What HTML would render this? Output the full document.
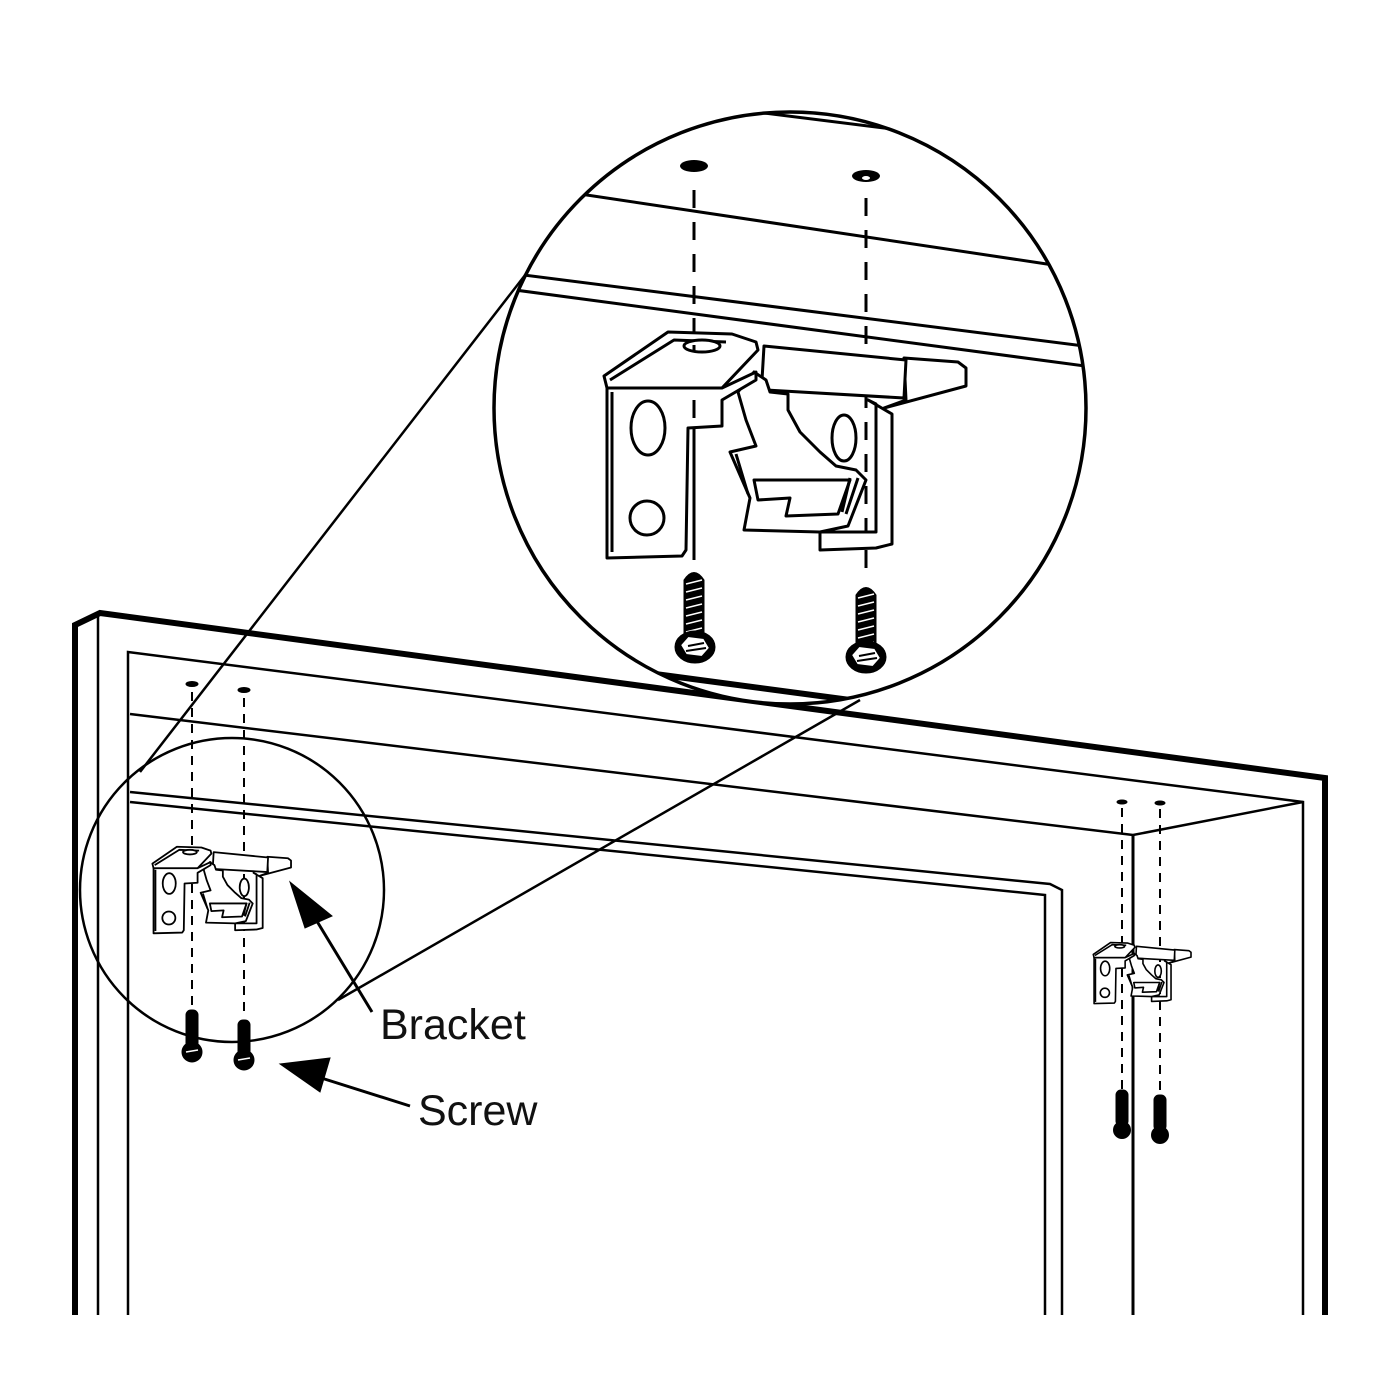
<!DOCTYPE html>
<html><head><meta charset="utf-8"><style>
html,body{margin:0;padding:0;background:#fff;}
svg{display:block;}
</style></head><body>
<svg width="1400" height="1400" viewBox="0 0 1400 1400" xmlns="http://www.w3.org/2000/svg">
<defs>
<clipPath id="bc"><circle cx="790" cy="408" r="296"/></clipPath>
<g id="br" fill="#fff" stroke="#000" stroke-linejoin="round">
  <path vector-effect="non-scaling-stroke" d="M884,408 L966,386 L966,368 L958,362 L904,358 L906,400 Z"/>
  <path vector-effect="non-scaling-stroke" d="M868,400 L892,414 L892,544 L876,548 L820,550 L820,532 L876,532 L876,404 Z"/>
  <ellipse vector-effect="non-scaling-stroke" cx="844" cy="438" rx="12" ry="23"/>
  <path vector-effect="non-scaling-stroke" d="M764,346 L906,360 L904,398 L766,390 L762,380 Z"/>
  <path vector-effect="non-scaling-stroke" d="M754,372 L738,392 L746,420 L756,446 L730,452 L750,498 L744,530 L820,532 L848,526 L866,480 L856,470 L836,466 L820,452 L800,432 L788,410 L788,394 L770,392 L766,380 Z"/>
  <path vector-effect="non-scaling-stroke" d="M754,480 L758,500 L790,498 L786,516 L838,514 L850,480 Z"/>
  <path vector-effect="non-scaling-stroke" fill="none" d="M736,454 L748,494 M850,478 L842,512 M858,478 L846,514"/>
  <path vector-effect="non-scaling-stroke" d="M604,376 L668,332 L732,334 L756,342 L758,350 L722,388 L607,388 Z"/>
  <path vector-effect="non-scaling-stroke" fill="none" d="M610,380 L674,340 L726,342"/>
  <ellipse vector-effect="non-scaling-stroke" cx="702" cy="346" rx="18" ry="6"/>
  <path vector-effect="non-scaling-stroke" d="M607,388 L722,388 L756,372 L756,380 L722,400 L722,426 L688,428 L686,550 L682,556 L607,558 Z"/>
  <path vector-effect="non-scaling-stroke" fill="none" d="M612,392 L612,552"/>
  <ellipse vector-effect="non-scaling-stroke" cx="648" cy="428" rx="17" ry="27"/>
  <circle vector-effect="non-scaling-stroke" cx="647" cy="518" r="17"/>
</g>
</defs>

<g fill="none" stroke="#000">
  <path d="M75,1315 L75,625 L100,613 L1325,778 L1325,1315" stroke-width="6"/>
  <path d="M98,615 L98,1315" stroke-width="2.5"/>
  <path d="M128,1315 L128,652 L1303,802 L1303,1315" stroke-width="2.5"/>
  <path d="M130,714 L1133,835 L1303,802" stroke-width="2.5"/>
  <path d="M1133,835 L1133,1315" stroke-width="3"/>
  <path d="M130,792 L1050,884 L1062,890 L1062,1315" stroke-width="2.5"/>
  <path d="M130,802 L1045,895 L1045,1315" stroke-width="2.5"/>
</g>

<g fill="none" stroke="#000" stroke-width="2.5">
  <circle cx="232" cy="890" r="152"/>
  <path d="M140,772 L560,230"/>
  <path d="M338,1000 L860,700"/>
</g>

<g stroke="#000" fill="none">
  <ellipse cx="192" cy="684" rx="6" ry="2.5" fill="#000"/>
  <ellipse cx="244" cy="690" rx="6" ry="2.5" fill="#000"/>
  <path d="M192,692 L192,1012 M244,698 L244,1018" stroke-width="2" stroke-dasharray="9,7"/>
</g>
<use href="#br" transform="translate(152,846) scale(0.383) translate(-603,-330)" stroke-width="1.8"/>
<g fill="#000" stroke="#000">
  <rect x="186" y="1010" width="12" height="38" rx="5"/>
  <circle cx="192" cy="1052" r="10"/>
  <path d="M186,1052 L198,1050" stroke="#fff" stroke-width="1.5"/>
  <rect x="238" y="1020" width="12" height="38" rx="5"/>
  <circle cx="244" cy="1060" r="10"/>
  <path d="M238,1060 L250,1058" stroke="#fff" stroke-width="1.5"/>
</g>

<g stroke="#000" fill="none">
  <ellipse cx="1122" cy="802" rx="5" ry="2" fill="#000"/>
  <ellipse cx="1160" cy="803" rx="5" ry="2" fill="#000"/>
  <path d="M1122,808 L1122,1090 M1160,809 L1160,1095" stroke-width="2" stroke-dasharray="9,7"/>
</g>
<use href="#br" transform="translate(1093,942) scale(0.27) translate(-603,-330)" stroke-width="1.6"/>
<g fill="#000" stroke="#000">
  <rect x="1116" y="1090" width="12" height="36" rx="5"/>
  <circle cx="1122" cy="1130" r="8" stroke-width="2"/>
  <rect x="1154" y="1095" width="12" height="36" rx="5"/>
  <circle cx="1160" cy="1135" r="8" stroke-width="2"/>
</g>

<g stroke="#000" stroke-width="3" fill="#000">
  <path d="M372,1012 L315,918" fill="none"/>
  <path d="M290,882 L332,916 L305,928 Z" stroke-width="1"/>
  <path d="M410,1106 L315,1076" fill="none"/>
  <path d="M280,1064 L330,1058 L320,1092 Z" stroke-width="1"/>
</g>
<text x="380" y="1039" font-family="Liberation Sans, sans-serif" font-size="43" fill="#111">Bracket</text>
<text x="418" y="1125" font-family="Liberation Sans, sans-serif" font-size="43" fill="#111">Screw</text>

<circle cx="790" cy="408" r="296" fill="#fff"/>
<g clip-path="url(#bc)">
  <g fill="none" stroke="#000" stroke-width="3">
    <path d="M740,110 L1060,150"/>
    <path d="M540,188 L1060,266"/>
    <path d="M500,272 L1100,348"/>
    <path d="M500,288 L1100,368"/>
    <path d="M400,640 L1300,760" stroke-width="6"/>
  </g>
  <ellipse cx="694" cy="166" rx="14" ry="6" fill="#000"/>
  <ellipse cx="866" cy="176" rx="14" ry="6" fill="#000"/>
  <ellipse cx="866" cy="178" rx="4" ry="2" fill="#fff"/>
  <path d="M694,190 L694,560 M866,198 L866,580" stroke="#000" stroke-width="3" stroke-dasharray="18,14" fill="none"/>
  <use href="#br" stroke-width="3"/>
  <path d="M694,345 L694,352 M694,400 L694,560" stroke="#000" stroke-width="3" stroke-dasharray="18,14" fill="none"/>
  <g stroke="#000">
    <path d="M684,645 L684,580 Q694,565 704,580 L704,645 Z" fill="#000"/>
    <path d="M686,584 L702,580 M686,592 L702,588 M686,600 L702,596 M686,608 L702,604 M686,616 L702,612 M686,624 L702,620 M686,632 L702,628" stroke="#fff" stroke-width="1.5"/>
    <ellipse cx="695" cy="647" rx="20" ry="16" fill="#000"/>
    <path d="M680,645 L688,636 L704,638 L710,648 L702,657 L686,655 Z" fill="#fff" stroke-width="2"/>
    <path d="M688,646 L704,643 M686,651 L706,648" stroke-width="2"/>
    <path d="M856,655 L856,595 Q866,580 876,595 L876,655 Z" fill="#000"/>
    <path d="M858,598 L874,594 M858,606 L874,602 M858,614 L874,610 M858,622 L874,618 M858,630 L874,626 M858,638 L874,634 M858,646 L874,642" stroke="#fff" stroke-width="1.5"/>
    <ellipse cx="866" cy="657" rx="20" ry="16" fill="#000"/>
    <path d="M851,655 L859,646 L875,648 L881,658 L873,667 L857,665 Z" fill="#fff" stroke-width="2"/>
    <path d="M859,656 L875,653 M857,661 L877,658" stroke-width="2"/>
  </g>
</g>
<circle cx="790" cy="408" r="296" fill="none" stroke="#000" stroke-width="3.5"/>
</svg>
</body></html>
